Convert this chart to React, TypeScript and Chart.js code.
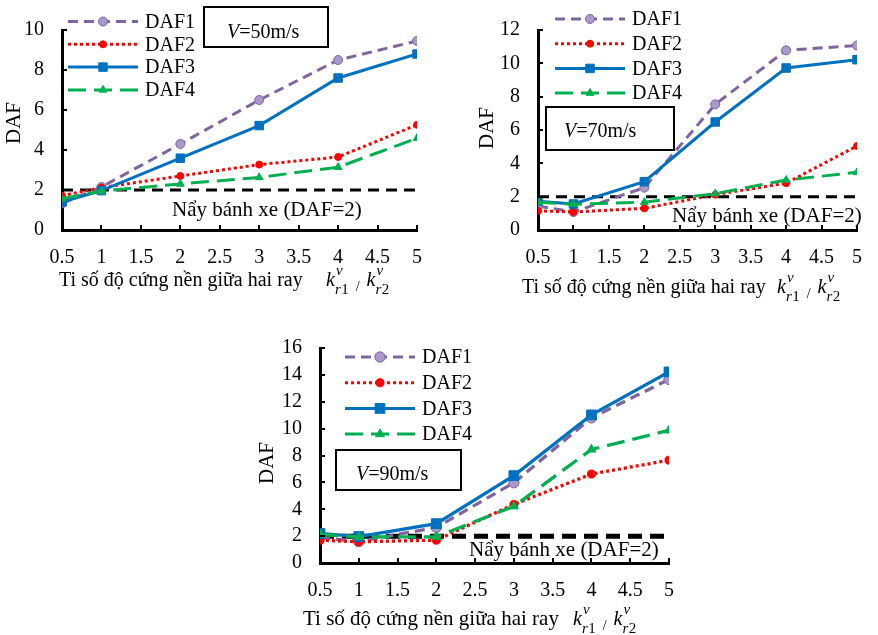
import React, { useEffect, useRef } from "react";
import { Chart, registerables } from "chart.js";

Chart.register(...registerables);

// Stiffness ratio k_r1 / k_r2 at which DAF was computed
const stiffnessRatios = [0.5, 1, 2, 3, 4, 5];
const ratioTicks = [0.5, 1, 1.5, 2, 2.5, 3, 3.5, 4, 4.5, 5];
const seriesLabels = ["DAF1", "DAF2", "DAF3", "DAF4"];
const wheelLiftLimit = 2;
const wheelLiftNote = "Nẩy bánh xe (DAF=2)";
const xAxisTitle = "Ti số độ cứng nền giữa hai ray";
const yAxisTitle = "DAF";

// V = 50 m/s
const daf1V50 = [1.33, 2.15, 4.3, 6.5, 8.5, 9.45];
const daf2V50 = [1.72, 2.12, 2.7, 3.27, 3.65, 5.26];
const daf3V50 = [1.4, 1.97, 3.59, 5.22, 7.6, 8.8];
const daf4V50 = [1.56, 1.95, 2.3, 2.63, 3.14, 4.59];
const yTicksV50 = [0, 2, 4, 6, 8, 10];

// V = 70 m/s
const daf1V70 = [1.44, 1.08, 2.54, 7.54, 10.78, 11.07];
const daf2V70 = [1.15, 1.08, 1.3, 2.12, 2.81, 5.04];
const daf3V70 = [1.72, 1.56, 2.9, 6.48, 9.72, 10.22];
const daf4V70 = [1.67, 1.55, 1.67, 2.18, 3.0, 3.46];
const yTicksV70 = [0, 2, 4, 6, 8, 10, 12];

// V = 90 m/s
const daf1V90 = [1.9, 1.59, 2.65, 5.97, 10.8, 13.66];
const daf2V90 = [1.7, 1.58, 1.7, 4.36, 6.62, 7.65];
const daf3V90 = [2.2, 1.97, 2.93, 6.5, 11.02, 14.22];
const daf4V90 = [2.12, 1.93, 1.95, 4.22, 8.45, 9.87];
const yTicksV90 = [0, 2, 4, 6, 8, 10, 12, 14, 16];

const SERIF = '"Times New Roman", "Liberation Serif", "DejaVu Serif", serif';
const Y_AXIS_W = 50;
const X_AXIS_H = 40;

type PointKind = "circle" | "rect" | "triangle";
const SERIES_STYLE: { color: string; fill: string; dash: number[]; width: number; point: PointKind; r: number }[] = [
  { color: "#8064A2", fill: "#A898CB", dash: [10, 6], width: 3, point: "circle", r: 4.5 },
  { color: "#FF0000", fill: "#FF0000", dash: [3, 3], width: 3, point: "circle", r: 3.5 },
  { color: "#0070C0", fill: "#0070C0", dash: [], width: 3, point: "rect", r: 6 },
  { color: "#00B050", fill: "#00B050", dash: [18, 8], width: 3, point: "triangle", r: 4.5 },
];

interface PanelCfg {
  key: string;
  speed: number;
  series: number[][];
  yTicks: number[];
  canvas: { left: number; top: number; width: number; height: number };
  plot: { left: number; top: number; right: number; bottom: number };
  yTitle: { x: number; y: number };
  xTitle: { x: number; base: number; kx: number; size: number };
  note: { x: number; base: number };
  box: { left: number; top: number; right: number; bottom: number; textX: number; base: number };
  legend: { x0: number; x1: number; textX: number; y0: number; dy: number };
  refDash: number[];
  refWidth: number;
  scale: number;
}

const PANELS: PanelCfg[] = [
  {
    key: "v50",
    speed: 50,
    series: [daf1V50, daf2V50, daf3V50, daf4V50],
    yTicks: yTicksV50,
    canvas: { left: 0, top: 0, width: 440, height: 305 },
    plot: { left: 62, top: 21, right: 417, bottom: 230 },
    yTitle: { x: 14, y: 123 },
    xTitle: { x: 59, base: 286, kx: 326, size: 20 },
    note: { x: 172, base: 216 },
    box: { left: 204, top: 7, right: 328, bottom: 47, textX: 227, base: 38 },
    legend: { x0: 68, x1: 138, textX: 145, y0: 21.5, dy: 22.8 },
    refDash: [11, 7],
    refWidth: 3,
    scale: 1,
  },
  {
    key: "v70",
    speed: 70,
    series: [daf1V70, daf2V70, daf3V70, daf4V70],
    yTicks: yTicksV70,
    canvas: { left: 440, top: 0, width: 438, height: 305 },
    plot: { left: 538, top: 14, right: 867, bottom: 230 },
    yTitle: { x: 487, y: 128 },
    xTitle: { x: 522, base: 293, kx: 777, size: 20 },
    note: { x: 672, base: 222 },
    box: { left: 546, top: 107, right: 674, bottom: 150, textX: 564, base: 137 },
    legend: { x0: 555, x1: 625, textX: 632, y0: 19, dy: 24.7 },
    refDash: [11, 7],
    refWidth: 3,
    scale: 1,
  },
  {
    key: "v90",
    speed: 90,
    series: [daf1V90, daf2V90, daf3V90, daf4V90],
    yTicks: yTicksV90,
    canvas: { left: 240, top: 318, width: 460, height: 317 },
    plot: { left: 320, top: 341, right: 669, bottom: 563 },
    yTitle: { x: 267, y: 463 },
    xTitle: { x: 303, base: 625, kx: 573, size: 21 },
    note: { x: 469, base: 556 },
    box: { left: 336, top: 450, right: 461, bottom: 490, textX: 356, base: 480 },
    legend: { x0: 345, x1: 415, textX: 422, y0: 357, dy: 25.7 },
    refDash: [14, 8],
    refWidth: 5,
    scale: 1.15,
  },
];

function drawMarker(ctx: CanvasRenderingContext2D, kind: PointKind, x: number, y: number, r: number, fill: string, stroke: string) {
  ctx.beginPath();
  if (kind === "circle") {
    ctx.arc(x, y, r, 0, Math.PI * 2);
  } else if (kind === "rect") {
    const s = r * Math.SQRT1_2;
    ctx.rect(x - s, y - s, 2 * s, 2 * s);
  } else {
    let a = 0;
    ctx.moveTo(x + Math.sin(a) * r, y - Math.cos(a) * r);
    a += (2 * Math.PI) / 3;
    ctx.lineTo(x + Math.sin(a) * r, y - Math.cos(a) * r);
    a += (2 * Math.PI) / 3;
    ctx.lineTo(x + Math.sin(a) * r, y - Math.cos(a) * r);
    ctx.closePath();
  }
  ctx.fillStyle = fill;
  ctx.fill();
  ctx.lineWidth = 1;
  ctx.strokeStyle = stroke;
  ctx.stroke();
}

// k_{r1}^{v} / k_{r2}^{v}
function drawRatioSymbol(ctx: CanvasRenderingContext2D, x: number, base: number) {
  const drawK = (x0: number, idx: string) => {
    ctx.font = `italic 20px ${SERIF}`;
    ctx.fillText("k", x0, base);
    const kw = ctx.measureText("k").width;
    ctx.font = `italic 15px ${SERIF}`;
    ctx.fillText("v", x0 + kw + 1, base - 11);
    ctx.fillText("r", x0 + kw, base + 8);
    const rw = ctx.measureText("r").width;
    ctx.font = `15px ${SERIF}`;
    ctx.fillText(idx, x0 + kw + rw + 0.5, base + 8);
    return x0 + kw + rw + 0.5 + ctx.measureText(idx).width;
  };
  const end = drawK(x, "1");
  ctx.font = `14px ${SERIF}`;
  ctx.fillText("/", end + 7, base + 5);
  const sw = ctx.measureText("/").width;
  drawK(end + 7 + sw + 7, "2");
}

function Panel({ cfg }: { cfg: PanelCfg }) {
  const ref = useRef<HTMLCanvasElement | null>(null);

  useEffect(() => {
    const canvas = ref.current;
    if (!canvas) return;
    const c = cfg.canvas;
    const p = cfg.plot;
    const padding = {
      left: p.left - c.left - Y_AXIS_W,
      top: p.top - c.top,
      right: c.left + c.width - p.right,
      bottom: c.top + c.height - p.bottom - X_AXIS_H,
    };

    const datasets: any[] = cfg.series.map((vals, i) => {
      const st = SERIES_STYLE[i];
      return {
        label: seriesLabels[i],
        data: stiffnessRatios.map((x, j) => ({ x, y: vals[j] })),
        borderColor: st.color,
        borderWidth: st.width * (cfg.scale > 1 ? 1.1 : 1),
        borderDash: st.dash,
        pointStyle: st.point,
        pointRadius: st.r * cfg.scale,
        pointBackgroundColor: st.fill,
        pointBorderColor: st.color,
        pointBorderWidth: 1,
        tension: 0,
        fill: false,
        order: 4 - i,
      };
    });
    datasets.push({
      label: wheelLiftNote,
      data: [
        { x: stiffnessRatios[0], y: wheelLiftLimit },
        { x: stiffnessRatios[stiffnessRatios.length - 1], y: wheelLiftLimit },
      ],
      borderColor: "#000",
      borderWidth: cfg.refWidth,
      borderDash: cfg.refDash,
      pointRadius: 0,
      fill: false,
      order: 10,
    });

    const decor = {
      id: "panelDecor",
      afterDraw(chart: any) {
        const ctx: CanvasRenderingContext2D = chart.ctx;
        const xs = chart.scales.x;
        const ys = chart.scales.y;
        const area = chart.chartArea;
        ctx.save();
        // inward tick marks
        ctx.strokeStyle = "#000";
        ctx.lineWidth = 2;
        ctx.setLineDash([]);
        ctx.beginPath();
        for (const t of ys.ticks) {
          const py = Math.round(ys.getPixelForValue(t.value));
          ctx.moveTo(area.left, py);
          ctx.lineTo(area.left + 5, py);
        }
        for (const t of xs.ticks) {
          const px = Math.round(xs.getPixelForValue(t.value));
          ctx.moveTo(px, area.bottom);
          ctx.lineTo(px, area.bottom - 5);
        }
        ctx.stroke();

        ctx.translate(-c.left, -c.top);
        ctx.fillStyle = "#000";
        ctx.textAlign = "left";

        // y-axis title
        ctx.save();
        ctx.translate(cfg.yTitle.x, cfg.yTitle.y);
        ctx.rotate(-Math.PI / 2);
        ctx.font = `21px ${SERIF}`;
        ctx.textAlign = "center";
        ctx.textBaseline = "middle";
        ctx.fillText(yAxisTitle, 0, 0);
        ctx.restore();

        // x-axis title
        ctx.textBaseline = "alphabetic";
        ctx.font = `${cfg.xTitle.size}px ${SERIF}`;
        ctx.fillText(xAxisTitle, cfg.xTitle.x, cfg.xTitle.base);
        drawRatioSymbol(ctx, cfg.xTitle.kx, cfg.xTitle.base);

        // wheel-lift threshold note
        ctx.font = `21px ${SERIF}`;
        ctx.fillText(wheelLiftNote, cfg.note.x, cfg.note.base);

        // speed box
        const b = cfg.box;
        ctx.fillStyle = "#fff";
        ctx.fillRect(b.left, b.top, b.right - b.left, b.bottom - b.top);
        ctx.strokeStyle = "#000";
        ctx.lineWidth = 2;
        ctx.strokeRect(b.left, b.top, b.right - b.left, b.bottom - b.top);
        ctx.fillStyle = "#000";
        ctx.font = `italic 20px ${SERIF}`;
        ctx.fillText("V", b.textX, b.base);
        const vw = ctx.measureText("V").width;
        ctx.font = `20px ${SERIF}`;
        ctx.fillText(`=${cfg.speed}m/s`, b.textX + vw, b.base);

        // legend
        const lg = cfg.legend;
        seriesLabels.forEach((label, i) => {
          const st = SERIES_STYLE[i];
          const y = lg.y0 + i * lg.dy;
          ctx.strokeStyle = st.color;
          ctx.lineWidth = st.width;
          ctx.setLineDash(st.dash);
          ctx.beginPath();
          ctx.moveTo(lg.x0, y);
          ctx.lineTo(lg.x1, y);
          ctx.stroke();
          ctx.setLineDash([]);
          drawMarker(ctx, st.point, (lg.x0 + lg.x1) / 2, y, st.r * cfg.scale, st.fill, st.color);
          ctx.fillStyle = "#000";
          ctx.font = `20px ${SERIF}`;
          ctx.textBaseline = "middle";
          ctx.fillText(label, lg.textX, y + 1);
          ctx.textBaseline = "alphabetic";
        });
        ctx.restore();
      },
    };

    const tickFont = { family: SERIF, size: 20 };
    const chart = new Chart(canvas, {
      type: "line",
      data: { datasets },
      options: {
        responsive: false,
        maintainAspectRatio: false,
        animation: false,
        layout: { padding },
        plugins: {
          legend: { display: false },
          tooltip: { enabled: false },
          title: { display: false },
        },
        scales: {
          x: {
            type: "linear",
            min: ratioTicks[0],
            max: ratioTicks[ratioTicks.length - 1],
            afterBuildTicks: (s: any) => {
              s.ticks = ratioTicks.map((v) => ({ value: v }));
            },
            afterFit: (s: any) => {
              s.height = X_AXIS_H;
            },
            grid: { display: false, drawTicks: false },
            border: { display: true, color: "#000", width: 3 },
            ticks: {
              font: tickFont,
              color: "#000",
              padding: 16,
              maxRotation: 0,
              autoSkip: false,
              callback: (v: any) => String(v),
            },
          },
          y: {
            type: "linear",
            min: cfg.yTicks[0],
            max: cfg.yTicks[cfg.yTicks.length - 1],
            afterBuildTicks: (s: any) => {
              s.ticks = cfg.yTicks.map((v) => ({ value: v }));
            },
            afterFit: (s: any) => {
              s.width = Y_AXIS_W;
            },
            grid: { display: false, drawTicks: false },
            border: { display: true, color: "#000", width: 3 },
            ticks: {
              font: tickFont,
              color: "#000",
              padding: 18,
              autoSkip: false,
              callback: (v: any) => String(v),
            },
          },
        },
      } as any,
      plugins: [decor],
    });
    return () => chart.destroy();
  }, [cfg]);

  const c = cfg.canvas;
  return (
    <canvas
      ref={ref}
      width={c.width}
      height={c.height}
      style={{ position: "absolute", left: c.left, top: c.top, width: c.width, height: c.height }}
    />
  );
}

export default function App() {
  return (
    <div style={{ position: "absolute", left: 0, top: 0, width: 878, height: 635, background: "#fff", overflow: "hidden" }}>
      {PANELS.map((cfg) => (
        <Panel key={cfg.key} cfg={cfg} />
      ))}
    </div>
  );
}
